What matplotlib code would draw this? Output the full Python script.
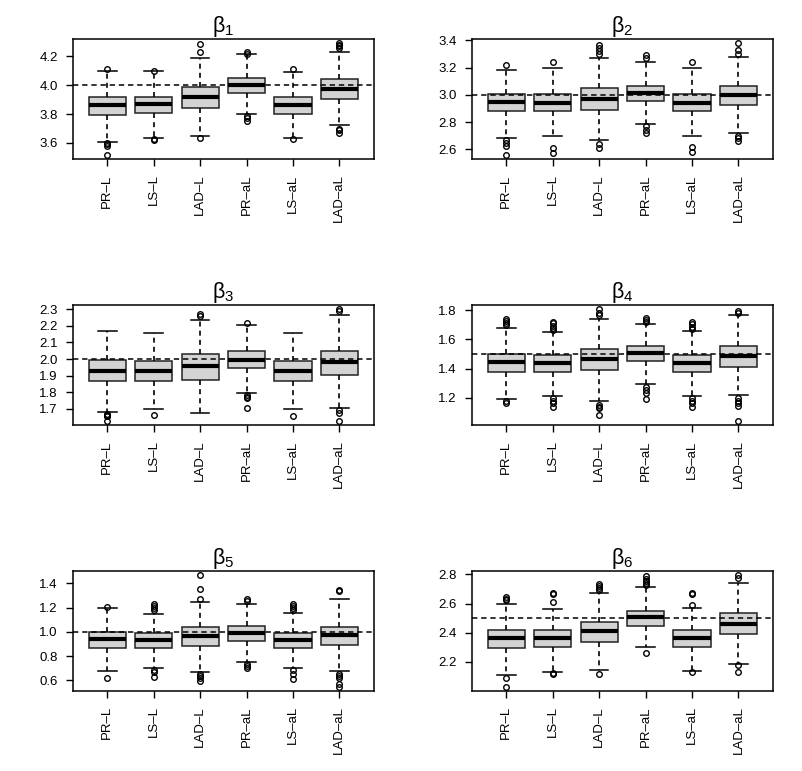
import numpy as np
import matplotlib
matplotlib.use("Agg")
import matplotlib.pyplot as plt

plt.rcParams['font.family'] = ['Liberation Sans', 'DejaVu Sans']

methods = ["PR\u2013L", "LS\u2013L", "LAD\u2013L", "PR\u2013aL", "LS\u2013aL", "LAD\u2013aL"]
titles = [r"$\mathregular{\beta_1}$", r"$\mathregular{\beta_2}$", r"$\mathregular{\beta_3}$",
          r"$\mathregular{\beta_4}$", r"$\mathregular{\beta_5}$", r"$\mathregular{\beta_6}$"]
true_vals = [4.0, 3.0, 2.0, 1.5, 1.0, 2.5]

# five numbers per box: lower whisker, q1, median, q3, upper whisker
b1_stats = [[3.609, 3.795, 3.860, 3.919, 4.099],
            [3.634, 3.805, 3.869, 3.922, 4.099],
            [3.648, 3.846, 3.919, 3.990, 4.191],
            [3.798, 3.945, 4.000, 4.050, 4.214],
            [3.634, 3.800, 3.862, 3.922, 4.094],
            [3.722, 3.903, 3.977, 4.041, 4.230]]
b1_out = [[4.11, 3.60, 3.59, 3.58, 3.52],
          [4.10, 3.627, 3.62],
          [4.23, 4.287, 3.632],
          [4.23, 4.22, 3.786, 3.77, 3.755],
          [4.114, 3.63],
          [4.29, 4.28, 4.27, 4.26, 3.70, 3.69, 3.67]]

b2_stats = [[2.683, 2.878, 2.944, 3.007, 3.185],
            [2.698, 2.880, 2.941, 3.007, 3.195],
            [2.673, 2.890, 2.973, 3.049, 3.271],
            [2.785, 2.954, 3.010, 3.063, 3.239],
            [2.698, 2.880, 2.941, 3.007, 3.195],
            [2.720, 2.927, 3.000, 3.068, 3.276]]
b2_out = [[3.22, 2.668, 2.649, 2.629, 2.563],
          [3.239, 2.612, 2.571],
          [3.368, 3.344, 3.32, 3.30, 2.637, 2.612],
          [3.288, 3.27, 2.77, 2.746, 2.717],
          [3.241, 2.62, 2.58],
          [3.376, 3.327, 3.30, 2.70, 2.685, 2.66]]

b3_stats = [[1.684, 1.870, 1.930, 1.994, 2.170],
            [1.698, 1.870, 1.930, 1.986, 2.158],
            [1.674, 1.876, 1.958, 2.030, 2.236],
            [1.794, 1.946, 1.996, 2.050, 2.206],
            [1.702, 1.870, 1.928, 1.986, 2.154],
            [1.708, 1.906, 1.984, 2.050, 2.262]]
b3_out = [[1.67, 1.665, 1.66, 1.655, 1.63],
          [1.662],
          [2.27, 2.26],
          [2.214, 1.784, 1.774, 1.764, 1.706],
          [1.656],
          [2.298, 2.286, 1.694, 1.678, 1.63]]

b4_stats = [[1.195, 1.380, 1.445, 1.500, 1.677],
            [1.214, 1.380, 1.436, 1.491, 1.650],
            [1.180, 1.389, 1.466, 1.536, 1.743],
            [1.295, 1.452, 1.509, 1.557, 1.707],
            [1.216, 1.380, 1.436, 1.491, 1.659],
            [1.218, 1.414, 1.486, 1.557, 1.766]]
b4_out = [[1.743, 1.727, 1.709, 1.698, 1.18, 1.168],
          [1.72, 1.709, 1.69, 1.675, 1.664, 1.198, 1.182, 1.164, 1.141],
          [1.805, 1.782, 1.766, 1.152, 1.141, 1.13, 1.08],
          [1.748, 1.732, 1.72, 1.277, 1.255, 1.232, 1.19],
          [1.72, 1.705, 1.686, 1.67, 1.198, 1.182, 1.164, 1.136],
          [1.795, 1.782, 1.198, 1.18, 1.164, 1.145, 1.045]]

b5_stats = [[0.681, 0.865, 0.940, 1.003, 1.200],
            [0.700, 0.871, 0.937, 0.995, 1.151],
            [0.673, 0.887, 0.970, 1.041, 1.247],
            [0.755, 0.926, 0.992, 1.049, 1.231],
            [0.703, 0.871, 0.934, 0.989, 1.157],
            [0.678, 0.896, 0.973, 1.044, 1.269]]
b5_out = [[1.203, 0.618],
          [1.228, 1.212, 1.195, 1.179, 0.69, 0.673, 0.632],
          [1.275, 1.357, 1.465, 0.656, 0.637, 0.618, 0.596],
          [1.269, 1.256, 0.739, 0.722, 0.706],
          [1.228, 1.212, 1.195, 1.179, 0.684, 0.651, 0.615],
          [1.349, 1.333, 0.656, 0.637, 0.618, 0.574, 0.55]]

b6_stats = [[2.110, 2.297, 2.361, 2.420, 2.600],
            [2.128, 2.300, 2.361, 2.416, 2.564],
            [2.146, 2.334, 2.409, 2.475, 2.673],
            [2.300, 2.448, 2.507, 2.552, 2.712],
            [2.137, 2.304, 2.361, 2.416, 2.571],
            [2.188, 2.393, 2.459, 2.532, 2.737]]
b6_out = [[2.644, 2.632, 2.623, 2.09, 2.032],
          [2.609, 2.673, 2.664, 2.124, 2.115],
          [2.735, 2.723, 2.708, 2.692, 2.119],
          [2.787, 2.771, 2.753, 2.742, 2.730, 2.261],
          [2.673, 2.662, 2.589, 2.13],
          [2.792, 2.776, 2.176, 2.133]]

yticks = [[3.6, 3.8, 4.0, 4.2],
          [2.6, 2.8, 3.0, 3.2, 3.4],
          [1.7, 1.8, 1.9, 2.0, 2.1, 2.2, 2.3],
          [1.2, 1.4, 1.6, 1.8],
          [0.6, 0.8, 1.0, 1.2, 1.4],
          [2.2, 2.4, 2.6, 2.8]]

all_stats = [b1_stats, b2_stats, b3_stats, b4_stats, b5_stats, b6_stats]
all_out = [b1_out, b2_out, b3_out, b4_out, b5_out, b6_out]

fig = plt.figure(figsize=(8.03, 7.71), dpi=100)
lefts = [0.0909, 0.5878]
bottoms = [0.7938, 0.4488, 0.1038]

for k in range(6):
    ax = fig.add_axes([lefts[k % 2], bottoms[k // 2], 0.3745, 0.1556])
    stats = []
    for s, o in zip(all_stats[k], all_out[k]):
        stats.append(dict(whislo=s[0], q1=s[1], med=s[2], q3=s[3], whishi=s[4], fliers=o))
    ax.bxp(stats, positions=range(1, 7), widths=0.8, capwidths=0.4,
           patch_artist=True, showfliers=True,
           boxprops=dict(facecolor='#d3d3d3', edgecolor='#222222', linewidth=1.1),
           medianprops=dict(color='black', linewidth=3.0, solid_capstyle='butt'),
           whiskerprops=dict(color='black', linewidth=1.2, linestyle=(0, (3, 2.5))),
           capprops=dict(color='black', linewidth=1.1),
           flierprops=dict(marker='o', markersize=4, markerfacecolor='none',
                           markeredgecolor='black', markeredgewidth=1.0))
    ax.axhline(true_vals[k], color='black', linestyle=(0, (3.5, 2.5)), linewidth=1.1, zorder=5)

    lo = min(min(s[0] for s in all_stats[k]), min(min(o) for o in all_out[k]))
    hi = max(max(s[4] for s in all_stats[k]), max(max(o) for o in all_out[k]))
    r = hi - lo
    ax.set_ylim(lo - 0.04 * r, hi + 0.04 * r)
    ax.set_xlim(0.26, 6.74)
    ax.set_yticks(yticks[k])
    ax.set_yticklabels(["%.1f" % t for t in yticks[k]])
    ax.set_xticks(range(1, 7))
    ax.set_xticklabels(methods, rotation=90)
    ax.tick_params(axis='both', direction='out', length=5, width=1.0, pad=6,
                   labelsize=9.5, colors='black')
    for sp in ax.spines.values():
        sp.set_linewidth(1.1)
    ax.set_title(titles[k], fontsize=15.5, pad=3)

fig.savefig("out.png", dpi=100)
